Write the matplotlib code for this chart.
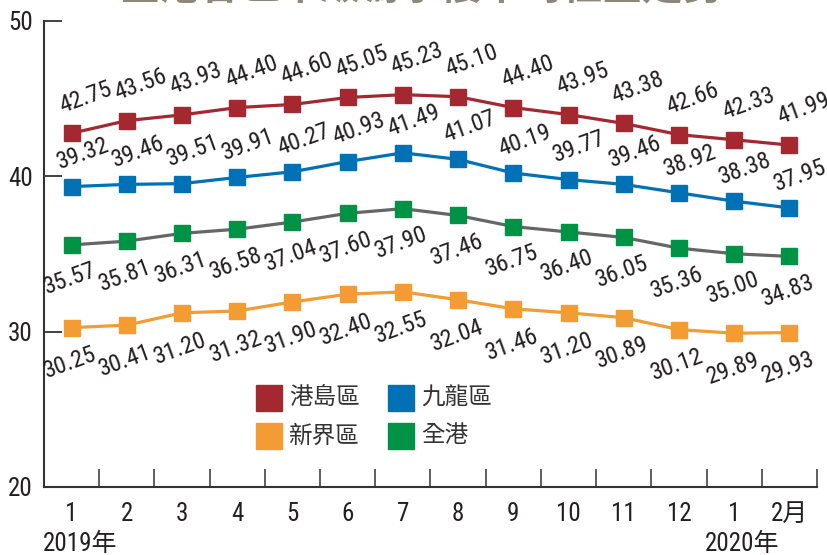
import matplotlib
matplotlib.use("Agg")
import matplotlib.pyplot as plt
import matplotlib.font_manager as fm
from matplotlib.patches import Rectangle
from matplotlib.ticker import FixedLocator

# ---------------- data ----------------
months = ["1", "2", "3", "4", "5", "6", "7", "8", "9", "10", "11", "12", "1", "2月"]
years = ["2019年", "2020年"]
year_pos = [0, 12]
hk_island = [42.75, 43.56, 43.93, 44.40, 44.60, 45.05, 45.23, 45.10, 44.40, 43.95, 43.38, 42.66, 42.33, 41.99]
kowloon = [39.32, 39.46, 39.51, 39.91, 40.27, 40.93, 41.49, 41.07, 40.19, 39.77, 39.46, 38.92, 38.38, 37.95]
all_hk = [35.57, 35.81, 36.31, 36.58, 37.04, 37.60, 37.90, 37.46, 36.75, 36.40, 36.05, 35.36, 35.00, 34.83]
nt = [30.25, 30.41, 31.20, 31.32, 31.90, 32.40, 32.55, 32.04, 31.46, 31.20, 30.89, 30.12, 29.89, 29.93]
names = ["港島區", "九龍區", "新界區", "全港"]
title = "全港各區甲級寫字樓平均租金走勢"

# ---------------- style ----------------
avail = {f.name for f in fm.fontManager.ttflist}
num_font = [f for f in ["Liberation Sans Narrow", "Roboto Condensed", "Liberation Sans"] if f in avail][:1] + ["Noto Sans CJK TC", "DejaVu Sans"]
cjk_font = ["Noto Sans CJK TC", "DejaVu Sans"]

RED = "#a4282f"
BLUE = "#0071b5"
GREEN = "#009245"
GRAY = "#666666"
ORANGE = "#f39c33"
TXT = "#231f20"

W, H = 828, 555
fig = plt.figure(figsize=(W / 100, H / 100), dpi=100)
ax = fig.add_axes([44 / W, (H - 487) / H, (817 - 44) / W, (487 - 20.5) / H])

x = list(range(len(months)))
series = [
    (hk_island, RED, RED, (10, 26)),
    (kowloon, BLUE, BLUE, (8, 23.5)),
    (all_hk, GRAY, GREEN, (-1, -24.5)),
    (nt, ORANGE, ORANGE, (-1, -25.5)),
]
for vals, lc, mc, off in series:
    ax.plot(x, vals, color=lc, lw=2.3, marker="s", ms=11, mfc=mc, mec=mc, zorder=3)
    for xi, v in zip(x, vals):
        ax.annotate(f"{v:.2f}", (xi, v), xytext=off, textcoords="offset points",
                    ha="center", va="center", rotation=20, fontsize=17.5,
                    family=num_font, color=TXT, zorder=4, annotation_clip=False)

ax.set_xlim(-0.5, len(months) - 0.5)
ax.set_ylim(20, 50)
ax.set_yticks([20, 30, 40, 50])
ax.set_yticklabels(["20", "30", "40", "50"], family=num_font, fontsize=18, color=TXT)
ax.tick_params(axis="y", direction="in", length=13, width=1.3, color="#333333", pad=8)

ax.set_xticks(x)
ax.set_xticklabels(months, family=num_font, fontsize=18, color=TXT)
ax.tick_params(axis="x", which="major", length=0, pad=11)
ax.xaxis.set_minor_locator(FixedLocator([i + 0.5 for i in range(len(months))]))
ax.tick_params(axis="x", which="minor", direction="in", length=13, width=1.1, color="#333333")

for s in ["top", "right"]:
    ax.spines[s].set_visible(False)
for s in ["left", "bottom"]:
    ax.spines[s].set_color("#333333")
    ax.spines[s].set_linewidth(1.5)

for yl, yp in zip(years, year_pos):
    ax.annotate(yl, (yp, 20), xycoords="data", xytext=(6, -41), textcoords="offset points",
                ha="center", va="center", fontsize=18, family=num_font, color=TXT,
                annotation_clip=False)

# legend
leg_items = [(names[0], RED, 256, 385), (names[1], BLUE, 388, 385),
             (names[2], ORANGE, 256, 423), (names[3], GREEN, 388, 423)]
for name, c, px, py in leg_items:
    fig.patches.append(Rectangle((px / W, 1 - (py + 26) / H), 26 / W, 26 / H,
                                 transform=fig.transFigure, color=c, zorder=5))
    fig.text((px + 33) / W, 1 - (py + 13) / H, name, family=cjk_font, fontsize=17,
             color="#333333", va="center", ha="left")

# clipped title at the very top
fig.text(421 / W, 1 + 12 / H, title, family=cjk_font, fontsize=29, weight="bold",
         color="#8c8778", ha="center", va="center")

fig.savefig("out.png", dpi=100)
